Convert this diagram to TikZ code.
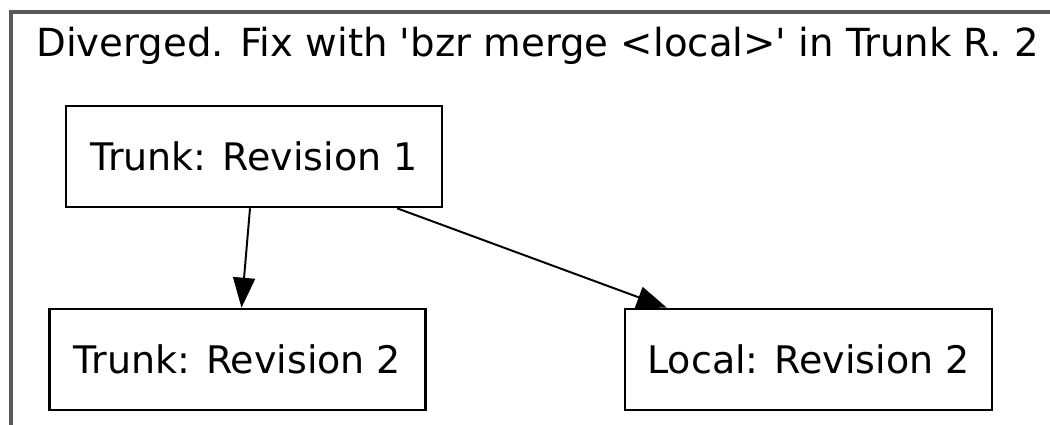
\documentclass[tikz,border=0pt]{standalone}
\usepackage{fontspec}
\setmainfont{DejaVu Sans}
\usetikzlibrary{arrows.meta, positioning, calc}

\begin{document}
\begin{tikzpicture}[
    x=0.025cm, y=-0.025cm,
    box/.style={draw, line width=1.8pt, minimum height=2.525cm, inner sep=0pt, font=\fontsize{27}{32}\selectfont},
    >={Triangle[length=0.75cm, width=0.55cm]}
]
\useasboundingbox (0,0) rectangle (1050,425);
% cluster frame (cut by the page)
\draw[line width=2.2pt, black!65] (11,440) -- (11,12) -- (1070,12);
\node[anchor=base west, inner sep=0pt, font=\fontsize{27.5}{32}\selectfont] (title) at (36,57) {Diverged. Fix with \textquotesingle bzr merge <local>\textquotesingle{} in Trunk R. 2};

\node[box, minimum width=9.4cm] (trunkA) at (254,156.5) {Trunk: Revision 1};
\node[box, minimum width=9.4cm] (trunkB) at (237.5,359.5) {Trunk: Revision 2};
\node[box, minimum width=9.175cm] (local) at (808.5,359.5) {Local: Revision 2};

\draw[->, line width=1.4pt] ([xshift=-0.1cm]trunkA.south) -- ([xshift=0.1cm]trunkB.north);
\draw[->, line width=1.4pt] ([xshift=3.575cm]trunkA.south) -- ([xshift=-3.54cm]local.north);
\end{tikzpicture}
\end{document}
